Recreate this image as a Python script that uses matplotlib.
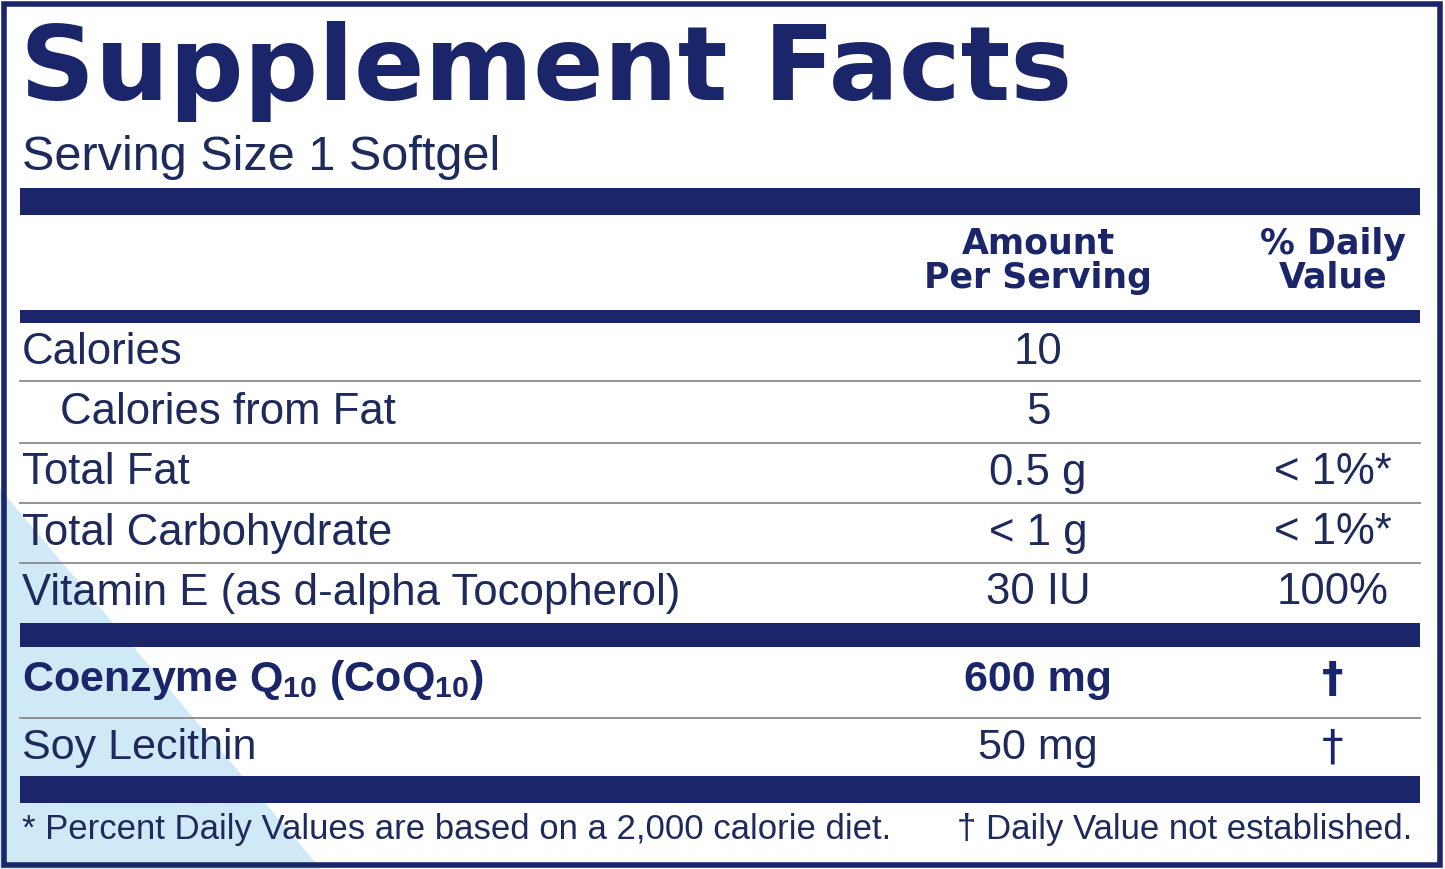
import matplotlib
matplotlib.use("Agg")
import matplotlib.pyplot as plt
from matplotlib.patches import Rectangle, Polygon

plt.rcParams['font.family'] = ['Liberation Sans', 'DejaVu Sans']
plt.rcParams['mathtext.fontset'] = 'custom'
plt.rcParams['mathtext.rm'] = 'Liberation Sans'
plt.rcParams['mathtext.bf'] = 'Liberation Sans:bold'

title = "Supplement Facts"
serving = "Serving Size 1 Softgel"
header_amount = "Amount\nPer Serving"
header_dv = "% Daily\nValue"
nutrients = ["Calories", "Calories from Fat", "Total Fat", "Total Carbohydrate",
             "Vitamin E (as d-alpha Tocopherol)"]
amounts = ["10", "5", "0.5 g", "< 1 g", "30 IU"]
dvs = ["", "", "< 1%*", "< 1%*", "100%"]
indent = [False, True, False, False, False]
other = [r"Coenzyme Q$_\mathbf{10}$ (CoQ$_\mathbf{10}$)", "Soy Lecithin"]
other_amounts = ["600 mg", "50 mg"]
other_dvs = ["†", "†"]
other_bold = [True, False]
foot_left = "* Percent Daily Values are based on a 2,000 calorie diet."
foot_right = "† Daily Value not established."

NAVY = "#1b2569"
TXT = "#1f2a5c"
W, H = 1445, 869
fig = plt.figure(figsize=(W/100, H/100), dpi=100)
ax = fig.add_axes([0, 0, 1, 1])
ax.set_xlim(0, W); ax.set_ylim(H, 0); ax.axis('off')

ax.add_patch(Polygon([(0, 490), (320, H), (0, H)], closed=True, color="#cfe9f6", zorder=0))
ax.add_patch(Rectangle((4, 4), 1436, 861, fill=False, ec=NAVY, lw=4))

def bar(y0, y1):
    ax.add_patch(Rectangle((20, y0), 1400, y1 - y0, color=NAVY, lw=0))
def line(y):
    ax.plot([20, 1420], [y, y], color="#8a8a8a", lw=1.3)

ax.text(20, 100, title, fontsize=75, fontweight='heavy', color=NAVY, va='baseline',
        family=['DejaVu Sans'])
ax.text(22, 158, serving, fontsize=35, color=TXT, va='center')
bar(188, 215)
ax.text(1038, 261, header_amount, fontsize=25, fontweight='bold', color=NAVY,
        ha='center', va='center', linespacing=1.0, family=['DejaVu Sans'])
ax.text(1333, 261, header_dv, fontsize=25, fontweight='bold', color=NAVY,
        ha='center', va='center', linespacing=1.0, family=['DejaVu Sans'])
bar(310, 323)

ys = [352, 412, 473, 533, 593]
for i, (n, a, d) in enumerate(zip(nutrients, amounts, dvs)):
    ax.text(60 if indent[i] else 22, ys[i], n, fontsize=31.5, color=TXT, va='center')
    ax.text(1038, ys[i], a, fontsize=31.5, color=TXT, va='center', ha='center')
    if d:
        ax.text(1333, ys[i], d, fontsize=31.5, color=TXT, va='center', ha='center')
for y in [381, 443, 503, 563]:
    line(y)
bar(623, 647)
oys = [680, 748]
for i in range(2):
    w = 'bold' if other_bold[i] else 'normal'
    ax.text(22, oys[i], other[i], fontsize=31, color=NAVY if other_bold[i] else TXT,
            fontweight=w, va='center')
    ax.text(1038, oys[i], other_amounts[i], fontsize=31, color=NAVY if other_bold[i] else TXT,
            fontweight=w, va='center', ha='center')
    ax.text(1333, oys[i], other_dvs[i], fontsize=31, color=NAVY, fontweight=w,
            va='center', ha='center', family=['DejaVu Sans'])
line(718)
bar(776, 803)
ax.text(22, 829, foot_left, fontsize=25, color=TXT, va='center')
ax.text(1412, 829, foot_right, fontsize=25, color=TXT, va='center', ha='right')

fig.savefig("out.png", dpi=100)
